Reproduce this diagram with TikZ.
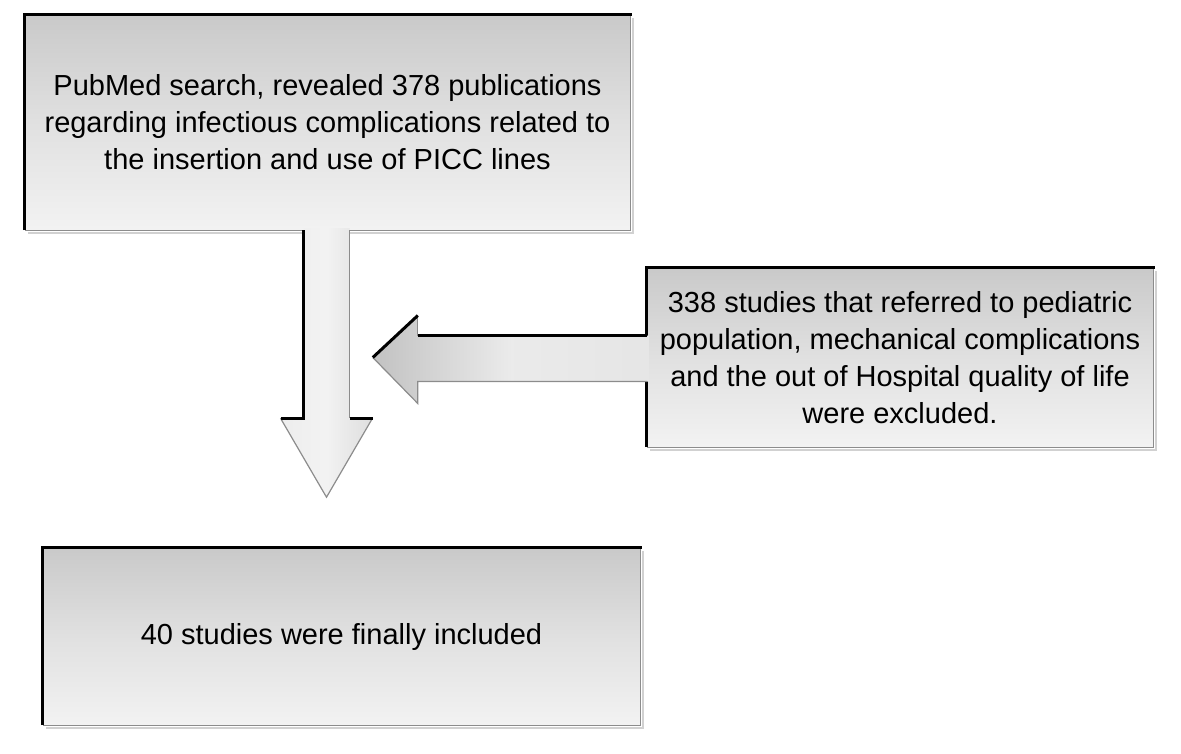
\documentclass[tikz,border=0pt]{standalone}
\usepackage{fontspec}
\setmainfont{Liberation Sans}
\usetikzlibrary{calc}
\begin{document}
\begin{tikzpicture}[x=1pt,y=-1pt,
  box/.style={shade, top color=black!21, bottom color=black!5, middle color=black!12,
    inner sep=0pt, align=center, font=\fontsize{29}{37}\selectfont},
  darkedge/.style={black, line width=3pt},
  lightedge/.style={black!45, line width=1.2pt},
  shadowedge/.style={black!18, line width=2pt}]
\useasboundingbox (0,0) rectangle (1181,753);
% boxes
\node[box, minimum width=605pt, minimum height=215pt] (b1) at (327.5,122.5)
  {PubMed search, revealed 378 publications\\regarding infectious complications related to\\the insertion and use of PICC lines};
\node[box, minimum width=506pt, minimum height=179pt] (b2) at (900,357.5)
  {338 studies that referred to pediatric\\population, mechanical complications\\and the out of Hospital quality of life\\were excluded.};
\node[box, minimum width=597pt, minimum height=177pt] (b3) at (341.5,636.5)
  {40 studies were finally included};
% box edges
\foreach \b in {b1,b2,b3}{
  \draw[shadowedge] ($(\b.north east)+(3,3)$) -- ($(\b.south east)+(3,3)$) -- ($(\b.south west)+(3,3)$);
  \draw[lightedge] (\b.north east) -- (\b.south east) -- (\b.south west);
  \draw[darkedge] (\b.south west) -- (\b.north west) -- ($(\b.north east)+(1.5,0)$);
}
% down arrow
\coordinate (d0) at (b1.south);
\path[left color=black!7, right color=black!13, middle color=black!5]
  ($(d0)+(-24,-2)$) -- ($(d0)+(-24,188)$) -- ($(d0)+(-47,188)$) -- ($(d0)+(-1,267)$)
  -- ($(d0)+(45,188)$) -- ($(d0)+(22,188)$) -- ($(d0)+(22,-2)$) -- cycle;
\draw[lightedge] ($(d0)+(22,0)$) -- ($(d0)+(22,188)$);
\draw[lightedge] ($(d0)+(45,188)$) -- ($(d0)+(-1,267)$) -- ($(d0)+(-47,188)$);
\draw[darkedge] ($(d0)+(-24,0)$) -- ($(d0)+(-24,188)$) -- ($(d0)+(-47,188)$);
\draw[darkedge] ($(d0)+(22,188)$) -- ($(d0)+(45,188)$);
% left arrow
\coordinate (l0) at (b2.west);
\path[left color=black!24, right color=black!10, middle color=black!8]
  ($(l0)+(2,-22)$) -- ($(l0)+(-229,-22)$) -- ($(l0)+(-229,-42)$) -- ($(l0)+(-274,0)$)
  -- ($(l0)+(-229,46)$) -- ($(l0)+(-229,24)$) -- ($(l0)+(2,24)$) -- cycle;
\draw[lightedge] ($(l0)+(-274,0)$) -- ($(l0)+(-229,46)$) -- ($(l0)+(-229,24)$) -- ($(l0)+(0,24)$);
\draw[lightedge] ($(l0)+(-229,-22)$) -- ($(l0)+(-229,-42)$);
\draw[darkedge] ($(l0)+(0,-22)$) -- ($(l0)+(-229,-22)$);
\draw[darkedge] ($(l0)+(-229,-42)$) -- ($(l0)+(-274,0)$);
\end{tikzpicture}
\end{document}
